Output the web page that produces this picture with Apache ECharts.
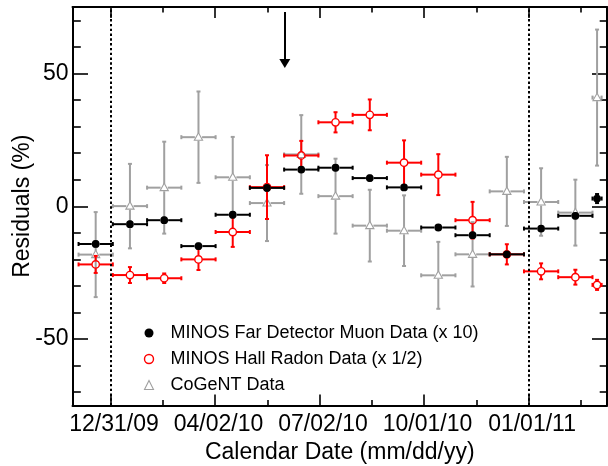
<!DOCTYPE html>
<html>
<head>
<meta charset="utf-8">
<script src="https://cdn.jsdelivr.net/npm/echarts@6/dist/echarts.min.js"></script>
<style>
html,body{margin:0;padding:0;background:#fff;}
#chart{width:608px;height:466px;}
</style>
</head>
<body>
<div id="chart"></div>
<script>
// ---------- data ----------
const refDate = '2009-12-31';
const binStart = ['2009-12-03','2010-01-02','2010-02-01','2010-03-03','2010-04-02','2010-05-02','2010-06-01','2010-07-01',
                  '2010-07-31','2010-08-30','2010-09-29','2010-10-29','2010-11-28','2010-12-28','2011-01-27','2011-02-26'];
const binEnd   = ['2010-01-02','2010-02-01','2010-03-03','2010-04-02','2010-05-02','2010-06-01','2010-07-01','2010-07-31',
                  '2010-08-30','2010-09-29','2010-10-29','2010-11-28','2010-12-28','2011-01-27','2011-02-26','2011-03-06'];

const muon      = [-14.2, -6.75, -5.25, -15.0, -3.2, 6.9, 13.8, 14.5, 10.6, 7.1, -8.0, -10.9, -18.1, -8.4, -3.6, 2.9];
const muonErr   = [0.9, 0.9, 0.9, 0.9, 0.9, 0.9, 0.9, 0.9, 0.9, 0.9, 0.9, 0.9, 0.9, 0.9, 0.9, 1.7];
const radon     = [-21.9, -25.9, -27.1, -20.0, -9.7, 7.2, 19.1, 31.6, 34.4, 16.4, 11.9, -5.25, -18.1, -24.5, -26.7, -29.6];
const radonErr  = [3.2, 3.0, 1.8, 4.0, 5.6, 12.0, 5.5, 3.8, 5.8, 8.4, 7.7, 6.9, 3.8, 3.0, 2.8, 1.9];
const cogent    = [-18.2, 0.05, 7.0, 26.0, 10.9, 1.2, 19.5, 3.8, -7.3, -9.2, -26.0, -18.1, 5.6, 1.6, -2.4, 40.9];
const cogentErr = [16.0, 15.9, 17.3, 17.2, 15.2, 14.3, 14.8, 14.1, 13.5, 13.3, 12.6, 12.1, 13.0, 12.7, 12.4, 25.6];

const seriesNames = ['MINOS Far Detector Muon Data (x 10)', 'MINOS Hall Radon Data (x 1/2)', 'CoGeNT Data'];

const xRangeDays = [-33.3, 434.7];
const majorTickDays = [0, 91.5, 183, 274.5, 366];
const majorTickLabels = ['12/31/09', '04/02/10', '07/02/10', '10/01/10', '01/01/11'];
const minorTickDays = [45.75, 137.25, 228.75, 320.25, 411.75];
const yRange = [-75, 75];
const yMajorTicks = [-50, 0, 50];
const yMinorTicks = [-70, -60, -40, -30, -20, -10, 10, 20, 30, 40, 60, 70];
const yearLineDays = [0, 366];
const arrowDay = 152.6, arrowFrom = 73.1, arrowTo = 53.7;

// ---------- helpers ----------
const REF = Date.parse(refDate + 'T00:00:00Z');
const dayOf = s => (Date.parse(s + 'T00:00:00Z') - REF) / 86400000;
const FONT = "'Liberation Sans', Arial, Helvetica, sans-serif";

function buildData(vals, errs) {
  return vals.map((v, i) => {
    const a = dayOf(binStart[i]), b = dayOf(binEnd[i]);
    return [(a + b) / 2, v, a, b, errs[i]];
  });
}

function makeRender(color, marker, gap) {
  return function (params, api) {
    const xc = api.value(0), y = api.value(1), x0 = api.value(2), x1 = api.value(3), e = api.value(4);
    const p = api.coord([xc, y]);
    const pl = api.coord([x0, y]), pr = api.coord([x1, y]);
    const pt = api.coord([xc, y + e]), pb = api.coord([xc, y - e]);
    const lw = 2, cap = 2;
    const st = { stroke: color, lineWidth: lw };
    const ch = [];
    const seg = (a, b, c, d) => ch.push({ type: 'line', shape: { x1: a, y1: b, x2: c, y2: d }, style: st });
    if (pl[0] < p[0] - gap) seg(pl[0], p[1], p[0] - gap, p[1]);
    if (pr[0] > p[0] + gap) seg(p[0] + gap, p[1], pr[0], p[1]);
    if (pt[1] < p[1] - gap) seg(p[0], pt[1], p[0], p[1] - gap);
    if (pb[1] > p[1] + gap) seg(p[0], p[1] + gap, p[0], pb[1]);
    seg(pl[0], p[1] - cap, pl[0], p[1] + cap);
    seg(pr[0], p[1] - cap, pr[0], p[1] + cap);
    seg(p[0] - cap, pt[1], p[0] + cap, pt[1]);
    seg(p[0] - cap, pb[1], p[0] + cap, pb[1]);
    if (marker === 'dot') {
      ch.push({ type: 'circle', shape: { cx: p[0], cy: p[1], r: 3.9 }, style: { fill: color } });
    } else if (marker === 'ring') {
      ch.push({ type: 'circle', shape: { cx: p[0], cy: p[1], r: 3.7 }, style: { fill: 'none', stroke: color, lineWidth: 1.4 } });
    } else {
      ch.push({ type: 'polygon', shape: { points: [[p[0], p[1] - 4.4], [p[0] - 4.1, p[1] + 3.0], [p[0] + 4.1, p[1] + 3.0]] },
        style: { fill: '#fff', stroke: color, lineWidth: 1.1 } });
    }
    return { type: 'group', children: ch };
  };
}

const axisCommon = {
  type: 'value',
  axisLine: { show: false, onZero: false },
  axisLabel: { show: false },
  splitLine: { show: false }
};

function xAx(pos, ticks, len, extra) {
  return Object.assign({}, axisCommon, {
    position: pos, min: xRangeDays[0], max: xRangeDays[1],
    axisTick: { show: true, inside: true, length: len, customValues: ticks, lineStyle: { color: '#000', width: 1.6 } }
  }, extra || {});
}
function yAx(pos, ticks, len, extra) {
  return Object.assign({}, axisCommon, {
    position: pos, min: yRange[0], max: yRange[1],
    axisTick: { show: true, inside: true, length: len, customValues: ticks, lineStyle: { color: '#000', width: 1.6 } }
  }, extra || {});
}

const chart = echarts.init(document.getElementById('chart'), null, { renderer: 'canvas' });
chart.setOption({
  backgroundColor: '#fff',
  animation: false,
  grid: { left: 72.5, right: 1, top: 7, bottom: 60.5, containLabel: false, outerBoundsMode: 'none' },
  xAxis: [
    xAx('bottom', majorTickDays, 11, {
      axisLine: { show: true, onZero: false, lineStyle: { color: '#000', width: 2 } },
      axisLabel: {
        show: true, customValues: majorTickDays, margin: 8, fontSize: 23, color: '#000', fontFamily: FONT,
        padding: [0, 0, 0, 7],
        formatter: v => { const i = majorTickDays.indexOf(v); return i >= 0 ? majorTickLabels[i] : ''; }
      },
      name: 'Calendar Date (mm/dd/yy)', nameLocation: 'middle', nameGap: 33,
      nameTextStyle: { fontSize: 23, color: '#000', fontFamily: FONT }
    }),
    xAx('bottom', minorTickDays, 5.5),
    xAx('top', majorTickDays, 11, { axisLine: { show: true, onZero: false, lineStyle: { color: '#000', width: 2 } } }),
    xAx('top', minorTickDays, 5.5)
  ],
  yAxis: [
    yAx('left', yMajorTicks, 15.5, {
      axisLine: { show: true, onZero: false, lineStyle: { color: '#000', width: 2 } },
      axisLabel: { show: true, customValues: yMajorTicks, margin: 4, fontSize: 23, color: '#000', fontFamily: FONT },
      name: 'Residuals (%)', nameLocation: 'middle', nameGap: 38, nameMoveOverlap: false,
      nameTextStyle: { fontSize: 23, color: '#000', fontFamily: FONT }
    }),
    yAx('left', yMinorTicks, 8.3),
    yAx('right', yMajorTicks, 15, { axisLine: { show: true, onZero: false, lineStyle: { color: '#000', width: 2 } } }),
    yAx('right', yMinorTicks, 7.3)
  ],
  legend: {
    orient: 'vertical', left: 138.8, top: 319, itemWidth: 9, itemHeight: 9, itemGap: 8,
    selectedMode: false,
    textStyle: { fontSize: 18, color: '#000', fontFamily: FONT, padding: [0, 0, 0, 12] },
    data: [
      { name: seriesNames[0], icon: 'circle', itemStyle: { color: '#000', borderWidth: 0 } },
      { name: seriesNames[1], icon: 'circle', itemStyle: { color: '#fff', borderColor: '#ff0000', borderWidth: 1.4 } },
      { name: seriesNames[2], icon: 'triangle', itemStyle: { color: '#fff', borderColor: '#a0a0a0', borderWidth: 1.1 } }
    ]
  },
  series: [
    { type: 'line', data: [], silent: true,
      markLine: { silent: true, symbol: ['none', 'none'], label: { show: false },
        lineStyle: { color: '#000', width: 2, type: [2.4, 2.4] },
        data: yearLineDays.map(d => ({ xAxis: d })) } },
    { type: 'line', data: [], silent: true,
      markLine: { silent: true, symbol: ['none', 'triangle'], symbolSize: [11, 9], label: { show: false },
        lineStyle: { color: '#000', width: 2, type: 'solid' },
        data: [[{ coord: [arrowDay, arrowFrom] }, { coord: [arrowDay, arrowTo] }]] } },
    { name: seriesNames[2], type: 'custom', renderItem: makeRender('#a0a0a0', 'tri', 3.6),
      data: buildData(cogent, cogentErr), encode: { x: 0, y: 1 }, itemStyle: { color: '#a0a0a0' } },
    { name: seriesNames[1], type: 'custom', renderItem: makeRender('#ff0000', 'ring', 3.7),
      data: buildData(radon, radonErr), encode: { x: 0, y: 1 }, itemStyle: { color: '#ff0000' } },
    { name: seriesNames[0], type: 'custom', renderItem: makeRender('#000000', 'dot', 3.9),
      data: buildData(muon, muonErr), encode: { x: 0, y: 1 }, itemStyle: { color: '#000' } }
  ]
});
</script>
</body>
</html>
